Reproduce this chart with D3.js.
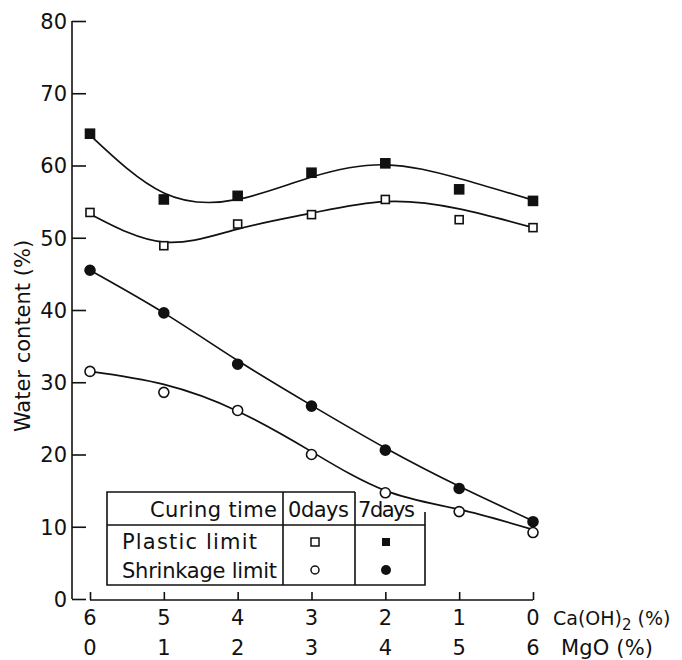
<!DOCTYPE html>
<html><head><meta charset="utf-8">
<script src="https://cdn.jsdelivr.net/npm/d3@7"></script>
<style>
html,body{margin:0;padding:0;background:#fff;}
svg{display:block;}
text{font-family:"DejaVu Sans",sans-serif;fill:#111;}
</style></head>
<body>
<svg id="chart" width="682" height="660"></svg>
<script>
// Data
const caOH2 = [6, 5, 4, 3, 2, 1, 0];
const mgO   = [0, 1, 2, 3, 4, 5, 6];
const yTicks = [0, 10, 20, 30, 40, 50, 60, 70, 80];
const plastic0 = [53.5, 48.9, 51.9, 53.2, 55.3, 52.5, 51.4];
const plastic7 = [64.4, 55.3, 55.8, 59.0, 60.3, 56.7, 55.1];
const shrink0  = [31.5, 28.6, 26.1, 20.0, 14.7, 12.1, 9.2];
const shrink7  = [45.5, 39.6, 32.5, 26.7, 20.6, 15.3, 10.7];
// fitted curves
const plastic0Fit = [53.3, 49.4, 51.2, 53.4, 55.0, 54.0, 51.4];
const plastic7Fit = [64.2, 56.2, 55.3, 58.4, 60.1, 58.2, 55.2];
const shrink0Fit  = [31.5, 29.7, 26.0, 20.4, 15.0, 12.4, 9.6];
const shrink7Fit  = [45.5, 39.6, 33.0, 26.8, 20.9, 15.6, 10.8];

const svg = d3.select("#chart");
const x = d3.scaleLinear().domain([6, 0]).range([90, 533]);
const y = d3.scaleLinear().domain([0, 80]).range([599, 21]);
const axisX = 72;
const FS = 21;

// Y axis
const gy = svg.append("g").attr("transform", `translate(${axisX},0)`);
gy.call(d3.axisRight(y).tickValues(yTicks).tickSize(14).tickFormat(""));
gy.select(".domain").attr("d", `M0,${y(80)}V${y(0)}`);
gy.selectAll("path,line").attr("stroke", "#111").attr("stroke-width", 1.6);
gy.selectAll(".tick").append("text")
  .attr("x", -5).attr("dy", "0.35em")
  .attr("text-anchor", "end").attr("font-size", FS)
  .text(d => d);

// X axis
const gx = svg.append("g").attr("transform", `translate(0,600)`);
gx.call(d3.axisTop(x).tickValues(caOH2).tickSize(8).tickFormat(""));
gx.select(".domain").attr("d", `M${x(6)},0H${x(0)}`);
gx.selectAll("path,line").attr("stroke", "#111").attr("stroke-width", 1.6);
caOH2.forEach((v, i) => {
  gx.append("text").attr("x", x(v)).attr("y", 25).attr("text-anchor", "middle")
    .attr("font-size", FS).text(v);
  gx.append("text").attr("x", x(v)).attr("y", 55).attr("text-anchor", "middle")
    .attr("font-size", FS).text(mgO[i]);
});
const t1 = svg.append("text").attr("x", 553).attr("y", 625).attr("font-size", 19);
t1.append("tspan").text("Ca(OH)");
t1.append("tspan").attr("font-size", 15).attr("dy", 5).text("2");
t1.append("tspan").attr("dy", -5).text(" (%)");
svg.append("text").attr("x", 561).attr("y", 655).attr("font-size", FS)
  .attr("textLength", 92).text("MgO (%)");

// Y label
svg.append("text").attr("transform", "translate(30,336) rotate(-90)")
  .attr("text-anchor", "middle").attr("font-size", 21).text("Water content (%)");

// Curves
const line = d3.line().x((d, i) => x(caOH2[i])).y(d => y(d)).curve(d3.curveNatural);
[plastic7Fit, plastic0Fit, shrink7Fit, shrink0Fit].forEach(s => {
  svg.append("path").attr("d", line(s)).attr("fill", "none")
    .attr("stroke", "#111").attr("stroke-width", 1.7);
});

// Markers
function squares(vals, filled, size) {
  svg.append("g").selectAll("rect").data(vals).join("rect")
    .attr("x", (d, i) => x(caOH2[i]) - size / 2).attr("y", d => y(d) - size / 2)
    .attr("width", size).attr("height", size)
    .attr("fill", filled ? "#111" : "#fff").attr("stroke", "#111").attr("stroke-width", 1.6);
}
function circles(vals, filled, r) {
  svg.append("g").selectAll("circle").data(vals).join("circle")
    .attr("cx", (d, i) => x(caOH2[i])).attr("cy", d => y(d)).attr("r", r)
    .attr("fill", filled ? "#111" : "#fff").attr("stroke", "#111").attr("stroke-width", 1.6);
}
squares(plastic7, true, 9);
squares(plastic0, false, 8);
circles(shrink7, true, 5);
circles(shrink0, false, 5);

// Legend table
const lg = svg.append("g").attr("stroke", "#111").attr("stroke-width", 1.6).attr("fill", "none");
const L = 107, T = 492, R = 425, B = 585, C1 = 283, C2 = 355, H = 525;
lg.append("path").attr("d", `M${C2},${T}H${L}V${B}H${R}V${T + 20}`);
lg.append("path").attr("d", `M${C1},${T}V${B}M${C2},${T}V${B}M${L},${H}H${R}`);
const lt = svg.append("g").attr("font-size", FS);
lt.append("text").attr("x", 277).attr("y", 517).attr("text-anchor", "end").attr("textLength", 127).text("Curing time");
lt.append("text").attr("x", 288).attr("y", 517).attr("textLength", 61).text("0days");
lt.append("text").attr("x", 358).attr("y", 517).attr("textLength", 57).text("7days");
lt.append("text").attr("x", 122).attr("y", 549).attr("textLength", 135).text("Plastic limit");
lt.append("text").attr("x", 122).attr("y", 578).attr("textLength", 155).text("Shrinkage limit");
svg.append("rect").attr("x", 315 - 4).attr("y", 542 - 4).attr("width", 8).attr("height", 8)
  .attr("fill", "#fff").attr("stroke", "#111").attr("stroke-width", 1.5);
svg.append("rect").attr("x", 386 - 4).attr("y", 542 - 4).attr("width", 8).attr("height", 8)
  .attr("fill", "#111");
svg.append("circle").attr("cx", 315).attr("cy", 570).attr("r", 4)
  .attr("fill", "#fff").attr("stroke", "#111").attr("stroke-width", 1.5);
svg.append("circle").attr("cx", 386).attr("cy", 570).attr("r", 5).attr("fill", "#111");
</script>
</body></html>
